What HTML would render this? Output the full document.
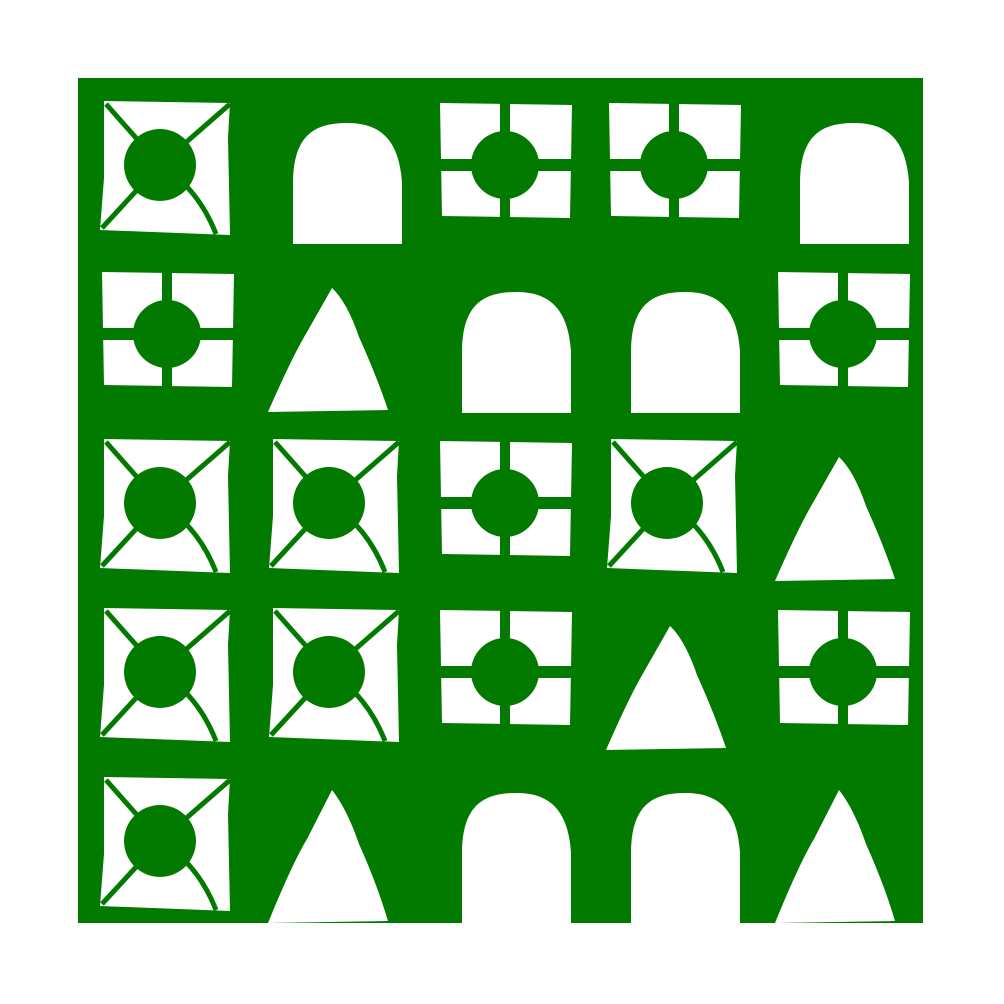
<!DOCTYPE html>
<html><head><meta charset="utf-8"><style>
html,body{margin:0;padding:0;background:#fff;width:1004px;height:1004px;overflow:hidden}
</style></head><body>
<svg id="s" width="1004" height="1004" viewBox="0 0 1004 1004">
<rect x="78" y="78" width="845" height="845" fill="#027a00"/>
</svg>
<script>
const grid = [
 ["A","B","C","C","B"],
 ["C","D","B","B","C"],
 ["A","A","C","A","D"],
 ["A","A","C","D","C"],
 ["A","DL","BL","BL","DL"]
];
const G="#027a00", ns="http://www.w3.org/2000/svg", svg=document.getElementById("s");
const T=169, O=78;
function el(tag,attrs,parent){const e=document.createElementNS(ns,tag);for(const k in attrs)e.setAttribute(k,attrs[k]);parent.appendChild(e);return e;}
grid.forEach((row,r)=>row.forEach((t,c)=>{
  const g=el("g",{transform:`translate(${O+c*T},${O+r*T})`},svg);
  
  
  if(t==="A"){
    el("path",{d:"M26 23 L152 25 L150 60 L152 157 L22 152 L26 100 Z",fill:"#fff"},g);
    ["M28 26 L82 87","M152 26 L82 87","M24 150 L82 87"].forEach(d=>el("path",{d,stroke:G,"stroke-width":5,fill:"none"},g));
    el("path",{d:"M82 87 Q120 110 138 156",stroke:G,"stroke-width":5,fill:"none"},g);
    el("circle",{cx:82,cy:87,r:36,fill:G},g);
  } else if(t==="C"){
    el("path",{d:"M24 25 L156 27 L154 140 L26 138 Z",fill:"#fff"},g);
    el("rect",{x:24,y:81,width:132,height:12,fill:G},g);
    el("rect",{x:84,y:25,width:10,height:115,fill:G},g);
    el("circle",{cx:89,cy:87,r:34,fill:G},g);
  } else if(t==="B"||t==="BL"){
    const bot=t==="BL"?169:166, top=t==="BL"?39:45;
    el("path",{d:`M46 ${bot} L46 ${top+60} C46 ${top+10} 70 ${top} 100 ${top} C132 ${top} 152 ${top+15} 155 ${top+60} L155 ${bot} Z`,fill:"#fff"},g);
  } else {
    const ap=t==="DL"?36:41, by=t==="DL"?169:165;
    el("path",{d:`M85 ${ap} Q100 55 112 90 Q130 130 141 ${by-2} L21 ${by} Q45 110 60 85 Z`,fill:"#fff"},g);
  }
}));
</script>
</body></html>
